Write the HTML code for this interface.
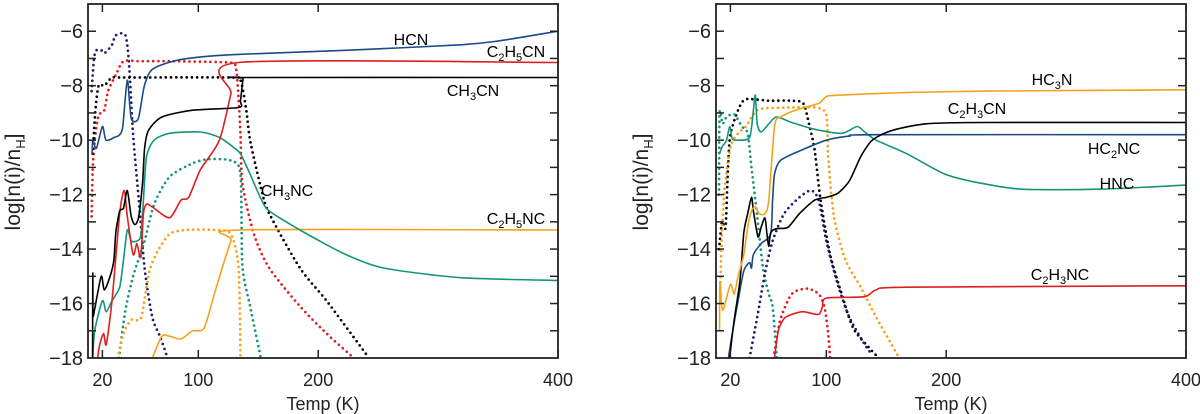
<!DOCTYPE html>
<html><head><meta charset="utf-8"><style>
body{margin:0;background:#fff;}
svg{display:block;font-family:"Liberation Sans",sans-serif;}
</style></head><body>
<svg id="chart" width="1200" height="414" viewBox="0 0 1200 414"></svg>
<script>
const yTicks=[-6,-8,-10,-12,-14,-16,-18];
const xTicks=[20,100,200,400];
// Left panel series [T, log abundance]
const hcn=[[11.4,-10.5],[12,-10],[15,-10.3],[20,-9.5],[23,-10],[30,-9.9],[34.4,-9.8],[37,-9.5],[40.8,-7.8],[44,-9.2],[50,-9.2],[55,-8],[61.6,-7.4],[79,-7.1],[101,-6.95],[133,-6.85],[223,-6.7],[319,-6.5],[351,-6.35],[400,-6]];
const c2h5cn=[[16,-18],[17.8,-17.5],[21,-17.1],[23.2,-17.5],[28,-15.9],[34.4,-12.7],[38.2,-11.85],[40.8,-12.8],[45.6,-14.2],[48.8,-13.8],[52,-14.3],[54.2,-12.7],[56.8,-12.35],[61.6,-12.45],[76,-12.85],[85.6,-12.2],[92,-12.1],[101.6,-11.1],[117.6,-10],[127.2,-8.3],[133.6,-7.15],[400,-7.15]];
const ch3cn=[[11.8,-18],[12,-14.9],[12.2,-16.4],[13.6,-16.2],[19,-15],[21.6,-15.5],[26.4,-15],[29.6,-14.4],[31.2,-13.4],[34.4,-12.6],[37.6,-12.5],[40.8,-11.85],[44,-12.8],[47.2,-13.1],[50.4,-12.8],[53.6,-11.5],[55.2,-10.3],[58.4,-9.65],[69.6,-9.15],[95.2,-8.9],[133.6,-8.8],[135.2,-8.55],[137.4,-7.75],[140,-7.7],[400,-7.7]];
const ch3nc=[[12,-18],[13.6,-17],[20,-15.9],[23.2,-16.3],[28,-15.9],[34.4,-15.4],[37.6,-14.4],[40.8,-13.3],[44,-13.7],[48.8,-13.7],[52,-13.5],[54.2,-12.2],[56.8,-10.6],[63.2,-10],[76,-9.75],[101.6,-9.7],[117.6,-9.9],[130.4,-10.3],[135.2,-10.5],[143.2,-11.25],[152.8,-12.2],[159.2,-12.6],[184.8,-13.3],[223,-14.2],[255,-14.7],[319,-15.05],[400,-15.15]];
const c2h5nc=[[61.6,-18],[69.6,-17.2],[76,-17.2],[85.6,-17.3],[95.2,-17],[104.8,-16.9],[114.4,-15.5],[127.2,-13.7],[133.6,-13.3],[400,-13.3]];
const hcnIce=[[11,-8.2],[13,-7],[15,-6.7],[19,-6.7],[22,-6.8],[28,-6.5],[31.2,-6.15],[39.2,-6.15],[42.4,-7.3],[45.6,-9.8],[50.4,-12.2],[55.2,-14.7],[61.6,-16.5],[68,-17.2],[72.8,-17.8],[74,-18]];
const c2h5cnIce=[[11,-12.8],[12,-11],[13.6,-10],[16.8,-9.1],[21.6,-8.9],[24.8,-8.2],[31.2,-7.6],[37.6,-7.1],[50.4,-7.1],[79.2,-7.1],[124.8,-7.15],[131.2,-7.3],[133.6,-8.5],[135.2,-9.8],[136.8,-11.6],[146.4,-13.45],[159.2,-14.7],[184.8,-16.1],[207,-17.1],[229.6,-18]];
const ch3cnIce=[[12,-10.5],[14,-9],[16.8,-8],[21.6,-8],[28,-7.7],[37.6,-7.7],[127.2,-7.7],[135.2,-7.8],[140,-8.9],[143.2,-10],[152.8,-11.85],[159.2,-12.7],[184.8,-14.7],[207,-15.9],[239,-17.8],[242,-18]];
const ch3ncIce=[[34,-18],[34.4,-17.8],[39.2,-16.25],[45.6,-15],[55.2,-13.7],[63.2,-12.35],[76,-11.35],[95.2,-10.85],[108,-10.7],[127.2,-10.75],[135.2,-11.25],[136.8,-14.6],[143.2,-16.1],[151.2,-17.8],[152,-18]];
const c2h5ncIce=[[32.8,-18],[37.6,-17.1],[44,-16.6],[52,-16.55],[56.8,-15.4],[60,-14.7],[66.4,-14.05],[76,-13.45],[88.8,-13.3],[114.4,-13.3],[127.2,-13.45],[133.6,-14.7],[135.2,-18]];
// Right panel series
const hc3n=[[11,-17],[11.3,-15.2],[13.6,-16.25],[20,-15.3],[23.2,-15.65],[26.4,-15],[31.2,-14.2],[34.4,-13.2],[37.6,-12.6],[40.8,-12.45],[44,-12.7],[48.8,-12.7],[52,-12.2],[56.8,-9.5],[61.6,-9.15],[74.4,-8.9],[93.6,-8.65],[100,-8.4],[109.6,-8.35],[167,-8.25],[231,-8.2],[400,-8.15]];
const c2h3cn=[[19.4,-18],[23.2,-16.6],[28,-15.15],[31.2,-13.4],[34.4,-12.7],[37.6,-12.1],[39.2,-12.6],[43,-13.55],[45.6,-13.2],[48.8,-12.85],[50.4,-13.4],[52,-13.9],[53.6,-13.4],[58.4,-13.25],[68,-13.2],[77.6,-12.7],[90.4,-12.2],[100,-12.1],[109.6,-11.95],[119.2,-11.5],[128.8,-10.6],[138.4,-10],[154.4,-9.65],[183.2,-9.4],[231.2,-9.35],[400,-9.35]];
const hc2nc=[[18.4,-18],[21.6,-17.1],[26.4,-15.9],[31.2,-14.8],[36,-14.5],[37.6,-14.7],[39.2,-14.2],[45.6,-13.8],[53.6,-13.45],[55.2,-12.2],[56.8,-11.25],[61.6,-10.75],[77.6,-10.4],[100,-10],[119.2,-9.85],[141.6,-9.8],[400,-9.8]];
const hnc=[[11,-10.5],[13,-10.25],[16.8,-10],[19.4,-9.5],[21.6,-9.95],[26.4,-10],[36,-9.9],[39.2,-8.9],[40.8,-8.35],[42.4,-9.4],[45.6,-9.7],[52,-9.4],[58.4,-9.15],[71.2,-9.35],[90.4,-9.6],[112.8,-9.75],[125.6,-9.5],[132,-9.7],[141.6,-10],[167.2,-10.5],[199.2,-11.25],[231.2,-11.6],[263.2,-11.8],[327.2,-11.8],[400,-11.65]];
const c2h3nc=[[56.8,-18],[60,-17],[64.8,-16.55],[71.2,-16.4],[80.8,-16.3],[93.6,-16.4],[96.8,-16.1],[100,-15.8],[132,-15.75],[141.6,-15.5],[167.2,-15.4],[400,-15.35]];
const c2h3cnIce=[[10.5,-14],[13,-13],[16,-13.2],[18,-11],[20,-9.8],[26.4,-8.9],[32.8,-8.5],[52,-8.55],[71.2,-8.55],[80.8,-8.65],[85.6,-9.4],[90.4,-10.4],[95.2,-12.2],[103.2,-14.2],[112.8,-15.65],[122.4,-16.9],[135.2,-17.6],[141.6,-17.9]];
const hncIce=[[10.5,-12],[11,-9],[13.6,-9.4],[16.8,-9.15],[23.2,-9.05],[29.6,-9.5],[34.4,-9.75],[37.6,-11],[42.4,-12.8],[47.2,-14.7],[52,-15.65],[55.2,-16.1],[58.4,-17.8],[59,-18]];
const hc3nIce=[[11.4,-15.6],[13,-13.4],[15.2,-11.8],[20,-10.25],[26.4,-9.75],[32.8,-9.5],[39.2,-9.05],[45.6,-8.85],[71.2,-8.8],[90.4,-8.8],[100,-9.05],[101.6,-10.6],[106.4,-12.8],[116,-14.4],[128.8,-15.4],[141.6,-16.5],[154.4,-17.5],[160.8,-18]];
const hc2ncIce=[[36,-18],[42.4,-16.5],[48.8,-14.9],[55.2,-13.7],[64.8,-12.7],[77.6,-12.1],[87.2,-11.85],[93.6,-12.2],[100,-13.7],[109.6,-15.3],[119.2,-16.5],[132,-17.5],[138.4,-17.9]];
const c2h3ncIce=[[56.8,-17.8],[61.6,-16.6],[71.2,-15.65],[84,-15.45],[93.6,-15.65],[98.4,-16.1],[101.6,-17.1],[103.2,-18]];

const NS='http://www.w3.org/2000/svg';
const svg=document.getElementById('chart');
const T0=8,T1=400,V0=-18,V1=-5;
function mk(tag,attrs,parent){const e=document.createElementNS(NS,tag);for(const k in attrs)e.setAttribute(k,attrs[k]);(parent||svg).appendChild(e);return e;}
const C={blue:'#1d4a85',navy:'#1c1e6b',red:'#dc1f1f',black:'#000',green:'#14957a',orange:'#f4a21c'};

function smooth(pts){
  let d='M'+pts[0][0].toFixed(1)+' '+pts[0][1].toFixed(1);
  for(let i=0;i<pts.length-1;i++){
    const p0=pts[Math.max(0,i-1)],p1=pts[i],p2=pts[i+1],p3=pts[Math.min(pts.length-1,i+2)];
    const k=1/8;
    const c1x=p1[0]+(p2[0]-p0[0])*k,c1y=p1[1]+(p2[1]-p0[1])*k;
    const c2x=p2[0]-(p3[0]-p1[0])*k,c2y=p2[1]-(p3[1]-p1[1])*k;
    d+=' C'+c1x.toFixed(1)+' '+c1y.toFixed(1)+' '+c2x.toFixed(1)+' '+c2y.toFixed(1)+' '+p2[0].toFixed(1)+' '+p2[1].toFixed(1);
  }
  return d;
}

function panel(px,name,series,labels){
  const W=470,top=4,bot=358,H=bot-top;
  const xs=t=>px+(t-T0)/(T1-T0)*W;
  const ys=v=>bot-(v-V0)/(V1-V0)*H;
  const g=mk('g',{});
  
  
  const cid='clip-'+name;
  const cp=mk('clipPath',{id:cid},g);mk('rect',{x:px,y:top,width:W,height:H},cp);
  const sg=mk('g',{'clip-path':'url(#'+cid+')'},g);
  series.forEach(s=>{
    const d=smooth(s.data.map(p=>[xs(p[0]),ys(p[1])]));
    const a={d:d,fill:'none',stroke:s.c,'stroke-width':s.dot?2.7:1.6,'stroke-linejoin':'round'};
    if(s.dot){a['stroke-dasharray']='0 5.2';a['stroke-linecap']='round';}
    const p=mk('path',a,sg);
    
    
  });
  const fr=mk('rect',{x:px,y:top,width:W,height:H,fill:'none',stroke:'#222','stroke-width':1.8},g);
  
  
  for(let v=-17;v<=-6;v++){
    const y=ys(v);
    mk('line',{x1:px,x2:px+8,y1:y,y2:y,stroke:'#222','stroke-width':1.5},g);
    mk('line',{x1:px+W-8,x2:px+W,y1:y,y2:y,stroke:'#222','stroke-width':1.5},g);
  }
  yTicks.forEach(v=>{
    const t=mk('text',{x:px-5,y:ys(v)+7,'text-anchor':'end','font-size':20,fill:'#222'},g);
    t.textContent='\u2212'+Math.abs(v);
    
    
  });
  xTicks.forEach(T=>{
    const x=xs(T);
    mk('line',{x1:x,x2:x,y1:bot,y2:bot-8,stroke:'#222','stroke-width':1.5},g);
    mk('line',{x1:x,x2:x,y1:top,y2:top+8,stroke:'#222','stroke-width':1.5},g);
    const t=mk('text',{x:x,y:386,'text-anchor':'middle','font-size':18,fill:'#222'},g);
    t.textContent=T;
    
    
  });
  const xt=mk('text',{x:px+W/2,y:410,'text-anchor':'middle','font-size':18,fill:'#222'},g);
  xt.textContent='Temp (K)';
  
  
  const yt=mk('text',{x:0,y:0,'text-anchor':'middle','font-size':21,fill:'#222',transform:'translate('+(px-68)+',182) rotate(-90)'},g);
  yt.innerHTML='log[n(i)/n<tspan font-size="13" dy="5">H</tspan><tspan dy="-5">]</tspan>';
  
  
  labels.forEach(l=>{
    const t=mk('text',{x:l[1],y:l[2],'font-size':16,fill:'#000','text-anchor':'middle'},g);
    t.innerHTML=l[0];
    
    
  });
}
const sub=s=>'<tspan font-size="11" dy="4">'+s+'</tspan><tspan dy="-4">';
panel(88,'left-panel',[
 {n:'hcn-ice',data:hcnIce,c:C.navy,dot:1},{n:'c2h5cn-ice',data:c2h5cnIce,c:C.red,dot:1},
 {n:'ch3cn-ice',data:ch3cnIce,c:C.black,dot:1},{n:'ch3nc-ice',data:ch3ncIce,c:C.green,dot:1},
 {n:'c2h5nc-ice',data:c2h5ncIce,c:C.orange,dot:1},
 {n:'hcn-gas',data:hcn,c:C.blue},{n:'c2h5nc-gas',data:c2h5nc,c:C.orange},{n:'ch3nc-gas',data:ch3nc,c:C.green},
 {n:'c2h5cn-gas',data:c2h5cn,c:C.red},{n:'ch3cn-gas',data:ch3cn,c:C.black}
],[['HCN',411,45],['C'+sub('2')+'H</tspan>'+sub('5')+'CN</tspan>',516,57],['CH'+sub('3')+'CN</tspan>',473,96],['CH'+sub('3')+'NC</tspan>',287,196],['C'+sub('2')+'H</tspan>'+sub('5')+'NC</tspan>',516,224]]);
panel(716,'right-panel',[
 {n:'c2h3cn-ice',data:c2h3cnIce,c:C.black,dot:1},{n:'hnc-ice',data:hncIce,c:C.green,dot:1},
 {n:'hc3n-ice',data:hc3nIce,c:C.orange,dot:1},{n:'hc2nc-ice',data:hc2ncIce,c:C.navy,dot:1},
 {n:'c2h3nc-ice',data:c2h3ncIce,c:C.red,dot:1},
 {n:'hnc-gas',data:hnc,c:C.green},{n:'hc2nc-gas',data:hc2nc,c:C.blue},{n:'c2h3cn-gas',data:c2h3cn,c:C.black},
 {n:'hc3n-gas',data:hc3n,c:C.orange},{n:'c2h3nc-gas',data:c2h3nc,c:C.red}
],[['HC'+sub('3')+'N</tspan>',1052,85],['C'+sub('2')+'H</tspan>'+sub('3')+'CN</tspan>',977,114],['HC'+sub('2')+'NC</tspan>',1114,154],['HNC',1117,189],['C'+sub('2')+'H</tspan>'+sub('3')+'NC</tspan>',1060,280]]);
</script>
</body></html>
